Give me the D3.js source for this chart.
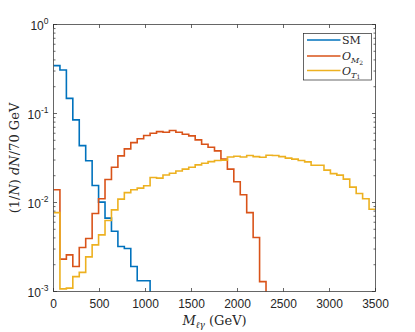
<!DOCTYPE html>
<html>
<head>
<meta charset="utf-8">
<script src="https://cdn.jsdelivr.net/npm/d3@7"></script>
<style>
  body { margin: 0; background: #fff; }
  .tick-label { font-family: "Liberation Sans", Arial, sans-serif; font-size: 12px; fill: #262626; }
  .tex { font-family: "DejaVu Serif", "Liberation Serif", serif; fill: #262626; }
</style>
</head>
<body>
<div id="chart"></div>
<script>
// histogram data, 50 bins of 70 GeV, normalised (1/N dN)
const binWidth = 70;
const smValues = [0.345, 0.308, 0.148, 0.0847, 0.0436, 0.0294, 0.0155, 0.0101, 0.00667, 0.00476,
    0.0032, 0.00304, 0.00191, 0.00132, 0.00132, 0, 0, 0, 0, 0,
    0, 0, 0, 0, 0, 0, 0, 0, 0, 0,
    0, 0, 0, 0, 0, 0, 0, 0, 0, 0,
    0, 0, 0, 0, 0, 0, 0, 0, 0, 0];
const m2Values = [0.0139, 0.00231, 0.00258, 0.00191, 0.00312, 0.00394, 0.00751, 0.011, 0.0181, 0.0249,
    0.0334, 0.040, 0.0471, 0.052, 0.0565, 0.060, 0.0626, 0.0616, 0.0643, 0.0616,
    0.0585, 0.056, 0.0505, 0.0452, 0.0418, 0.038, 0.0307, 0.0237, 0.0171, 0.0122,
    0.0077, 0.00404, 0.00129, 0, 0, 0, 0, 0, 0, 0,
    0, 0, 0, 0, 0, 0, 0, 0, 0, 0];
const t1Values = [0.0077, 0.00107, 0.00109, 0.00147, 0.00164, 0.00245, 0.00334, 0.00433, 0.00627, 0.00826,
    0.0109, 0.0129, 0.0139, 0.0145, 0.0154, 0.0191, 0.0188, 0.0204, 0.0213, 0.0226,
    0.0237, 0.0249, 0.0265, 0.0276, 0.0288, 0.0296, 0.0299, 0.0325, 0.0331, 0.0325,
    0.0337, 0.0328, 0.0323, 0.034, 0.0337, 0.0328, 0.0315, 0.0307, 0.0296, 0.0286,
    0.0262, 0.0262, 0.0231, 0.0211, 0.0203, 0.0183, 0.0149, 0.0126, 0.011, 0.0084];

const xTicks = [0, 500, 1000, 1500, 2000, 2500, 3000, 3500];
const yExponents = [-3, -2, -1, 0];
const seriesColors = ["#0072BD", "#D95319", "#EDB120"];

const margin = {top: 24.5, right: 39.5, bottom: 40.5, left: 53.5};
const totalW = 415, totalH = 332;
const width = totalW - margin.left - margin.right;
const height = totalH - margin.top - margin.bottom;

const svg = d3.select("#chart").append("svg")
    .attr("width", totalW)
    .attr("height", totalH)
    .append("g")
    .attr("transform", `translate(${margin.left},${margin.top})`);

const x = d3.scaleLinear().domain([0, 3500]).range([0, width]);
const y = d3.scaleLog().domain([1e-3, 1]).range([height, 0]);

svg.append("clipPath").attr("id", "plot-clip")
    .append("rect").attr("width", width).attr("height", height);

// step lines
function toPoints(vals) {
    let pts = vals.map((v, i) => [i * binWidth, v]);
    pts.push([vals.length * binWidth, vals[vals.length - 1]]);
    return pts;
}
const line = d3.line()
    .curve(d3.curveStepAfter)
    .x(d => x(d[0]))
    .y(d => d[1] > 0 ? y(d[1]) : height + 20);

const series = [
    {name: "SM", values: smValues},
    {name: "M2", values: m2Values},
    {name: "T1", values: t1Values}
];

svg.append("g").attr("clip-path", "url(#plot-clip)")
    .selectAll("path").data(series).enter()
    .append("path")
    .attr("d", d => line(toPoints(d.values)))
    .attr("fill", "none")
    .attr("stroke", (d, i) => seriesColors[i])
    .attr("stroke-width", 1.6)
    .attr("stroke-linejoin", "miter");

// axes box
const axisColor = "#262626";
svg.append("rect")
    .attr("width", width).attr("height", height)
    .attr("fill", "none").attr("stroke", axisColor).attr("stroke-width", 0.7);

// x ticks (bottom + top, inside)
const tickLen = 3.5;
xTicks.forEach(t => {
    svg.append("line").attr("x1", x(t)).attr("x2", x(t)).attr("y1", height).attr("y2", height - tickLen)
        .attr("stroke", axisColor).attr("stroke-width", 0.7);
    svg.append("line").attr("x1", x(t)).attr("x2", x(t)).attr("y1", 0).attr("y2", tickLen)
        .attr("stroke", axisColor).attr("stroke-width", 0.7);
    svg.append("text").attr("class", "tick-label")
        .attr("x", x(t)).attr("y", height + 16)
        .attr("text-anchor", "middle")
        .text(t);
});

// y ticks, major and minor (log)
yExponents.forEach(e => {
    let v = Math.pow(10, e);
    [0, width].forEach(xp => {
        let dir = xp === 0 ? 1 : -1;
        svg.append("line").attr("x1", xp).attr("x2", xp + dir * tickLen).attr("y1", y(v)).attr("y2", y(v))
            .attr("stroke", axisColor).attr("stroke-width", 0.7);
        if (e < 0) {
            for (let k = 2; k <= 9; k++) {
                svg.append("line").attr("x1", xp).attr("x2", xp + dir * 2).attr("y1", y(k * v)).attr("y2", y(k * v))
                    .attr("stroke", axisColor).attr("stroke-width", 0.7);
            }
        }
    });
    let lbl = svg.append("text").attr("class", "tick-label")
        .attr("x", -5).attr("y", y(v) + 5)
        .attr("text-anchor", "end");
    lbl.append("tspan").text("10");
    lbl.append("tspan").attr("dy", -6).attr("font-size", "8.5px").text(e);
});

// axis labels
const xLab = svg.append("text").attr("class", "tex")
    .attr("x", width / 2).attr("y", height + 33)
    .attr("text-anchor", "middle")
    .attr("font-size", "13px");
xLab.append("tspan").attr("font-style", "italic").text("M");
xLab.append("tspan").attr("font-style", "italic").attr("font-size", "9px").attr("dy", 3).text("ℓγ");
xLab.append("tspan").attr("dy", -3).text(" (GeV)");

const yLab = svg.append("text").attr("class", "tex")
    .attr("transform", `translate(${-35},${height / 2}) rotate(-90)`)
    .attr("text-anchor", "middle")
    .attr("font-size", "13px");
yLab.append("tspan").text("(1/");
yLab.append("tspan").attr("font-style", "italic").text("N");
yLab.append("tspan").text(") ");
yLab.append("tspan").attr("font-style", "italic").text("dN");
yLab.append("tspan").text("/70 GeV");

// legend
const legX = 303.5 - margin.left, legY = 33.5 - margin.top;
const legend = svg.append("g").attr("transform", `translate(${legX},${legY})`);
legend.append("rect").attr("width", 68).attr("height", 46.5)
    .attr("fill", "#fff").attr("stroke", axisColor).attr("stroke-width", 0.7);

const legRows = [6.5, 22.5, 37];
series.forEach((s, i) => {
    legend.append("line")
        .attr("x1", 3.5).attr("x2", 37)
        .attr("y1", legRows[i]).attr("y2", legRows[i])
        .attr("stroke", seriesColors[i]).attr("stroke-width", 1.6);
    let t = legend.append("text").attr("class", "tex")
        .attr("x", 38.5).attr("y", legRows[i] + 4)
        .attr("font-size", "11px");
    if (s.name === "SM") {
        t.text("SM");
    } else {
        t.append("tspan").attr("font-style", "italic").text("O");
        t.append("tspan").attr("font-style", "italic").attr("font-size", "8px").attr("dy", 3).text(s.name[0]);
        t.append("tspan").attr("font-size", "6px").attr("dy", 1.5).text(s.name[1]);
    }
});
</script>
</body>
</html>
